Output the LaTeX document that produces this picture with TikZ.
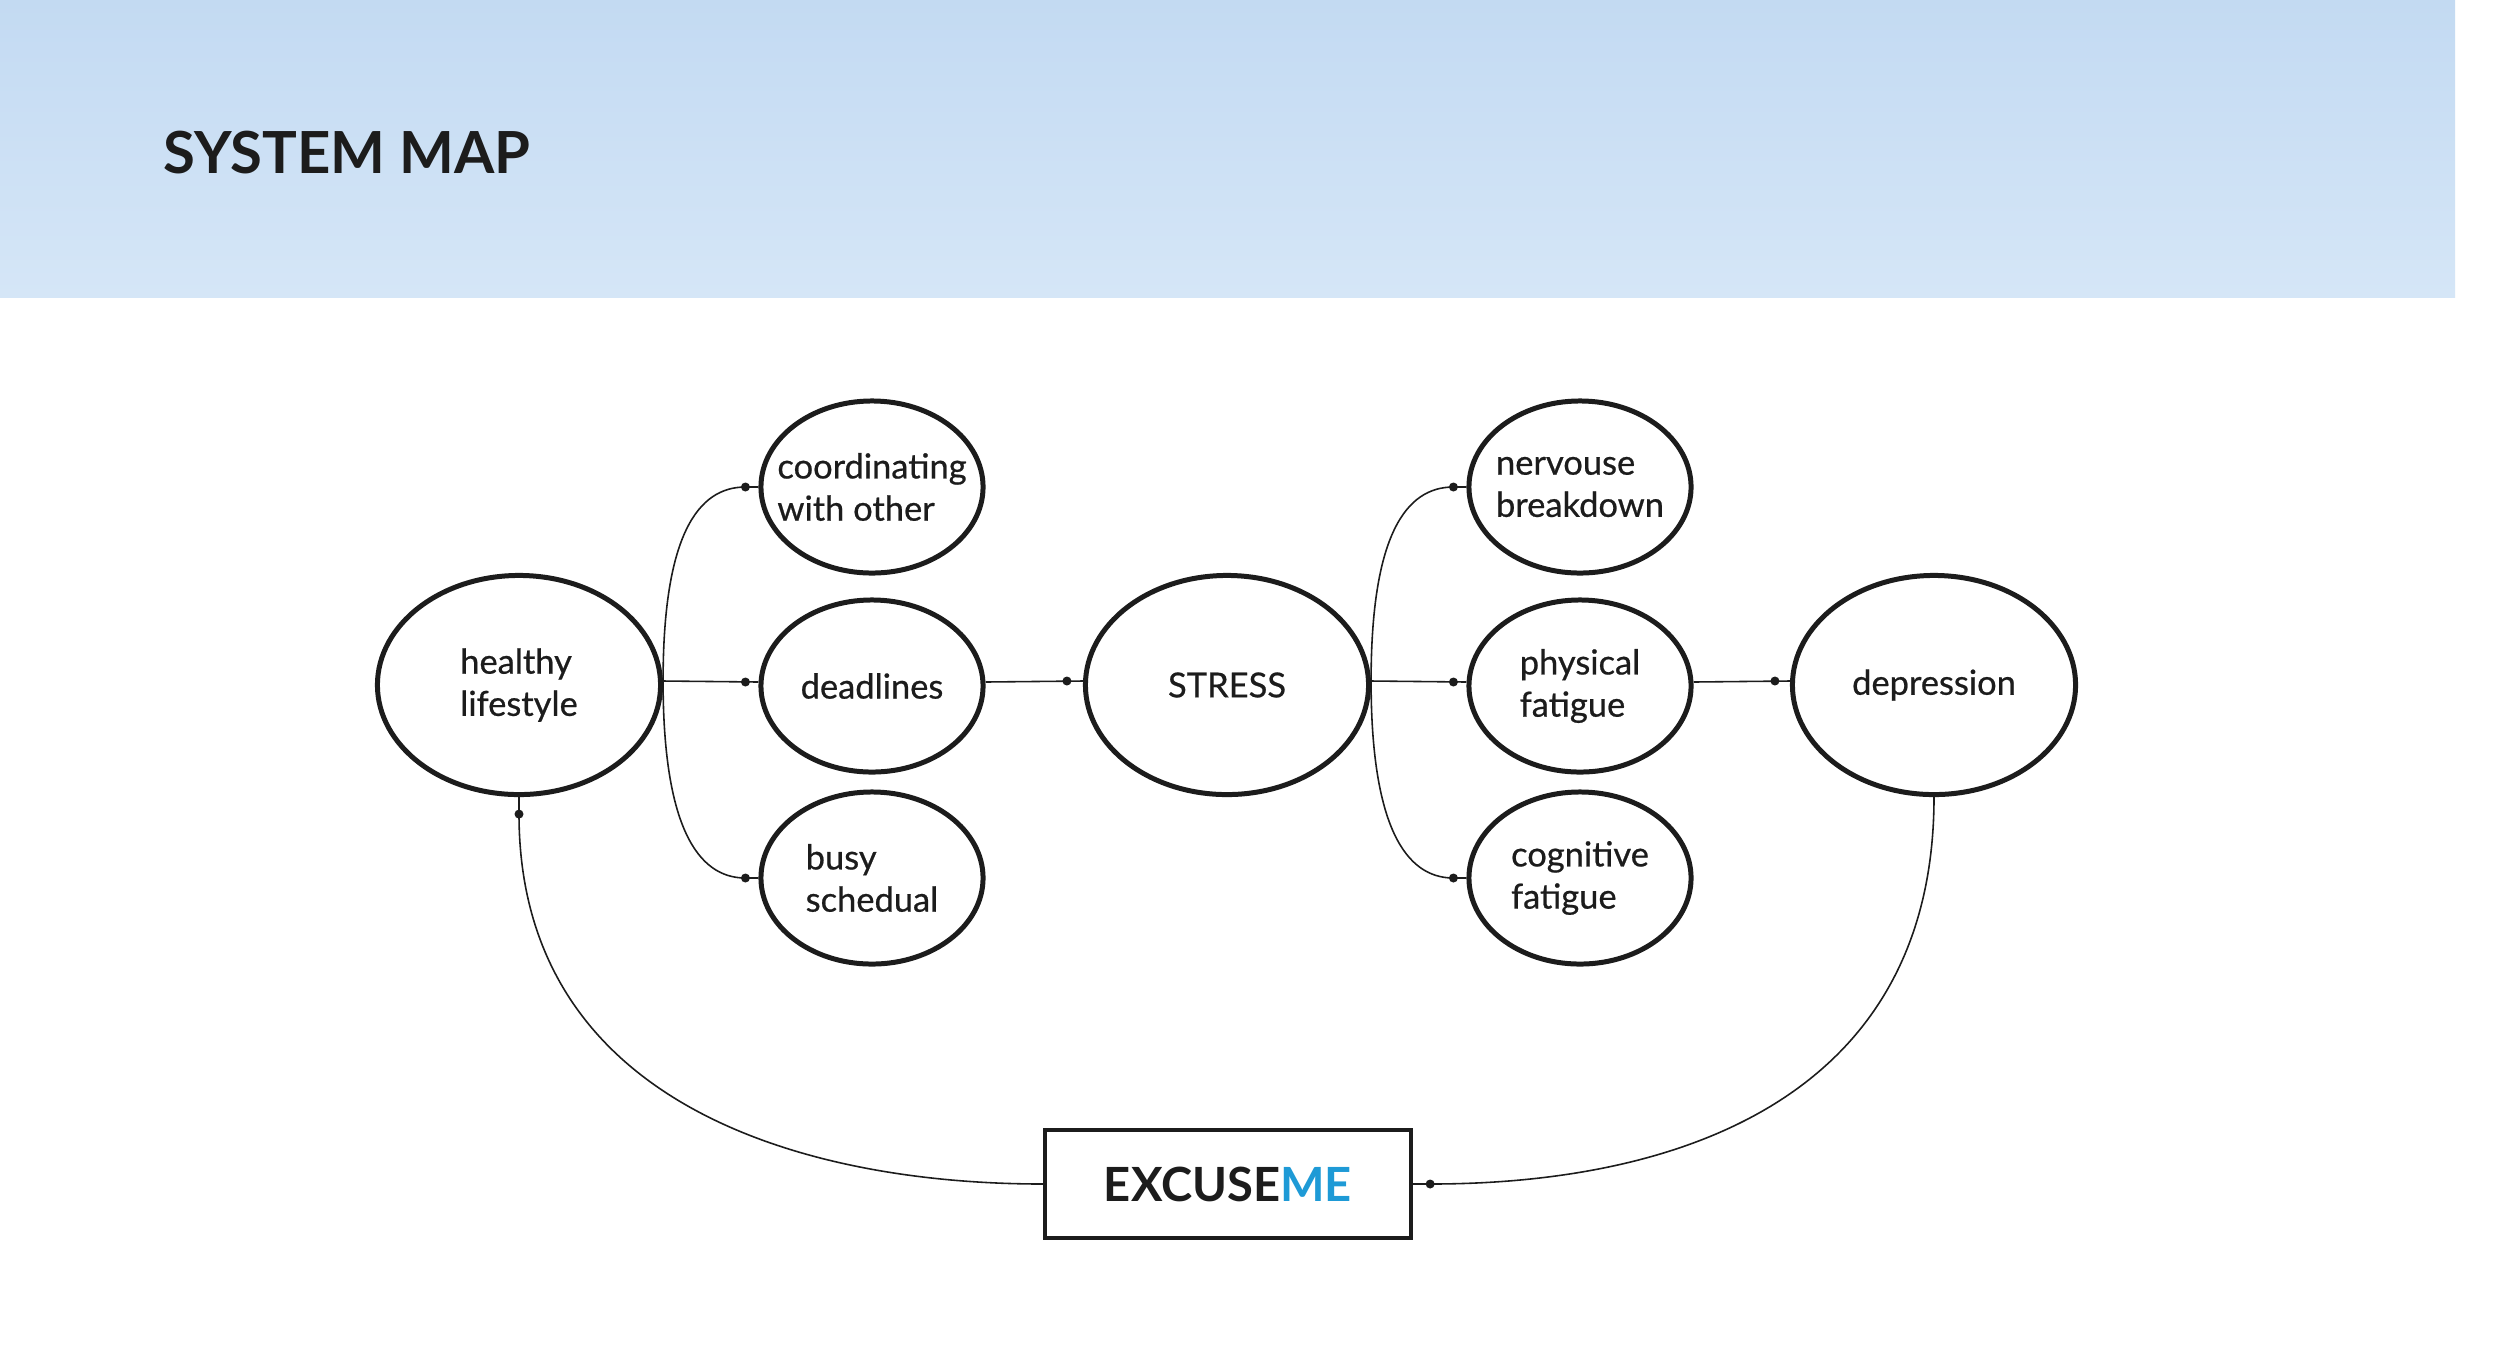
\documentclass[tikz,border=0pt]{standalone}
\usepackage{fontspec}
\setmainfont{Lato}
\newfontfamily\medium[FakeBold=0.6]{Lato}
\usetikzlibrary{shapes.geometric}
\definecolor{ink}{HTML}{1C1C1C}
\definecolor{bantop}{HTML}{C3DAF2}
\definecolor{banbot}{HTML}{D5E6F7}
\definecolor{meblue}{HTML}{1E9AD6}
\begin{document}
\begin{tikzpicture}[x=0.01cm,y=-0.01cm,
  bigell/.style={ellipse, draw=ink, line width=1.42pt, minimum width=2.83cm, minimum height=2.19cm, inner sep=0pt},
  smallell/.style={ellipse, draw=ink, line width=1.42pt, minimum width=2.22cm, minimum height=1.72cm, inner sep=0pt},
  lbl/.style={font=\medium\fontsize{9.8}{12}\selectfont, text=ink, align=left, inner sep=0pt},
  conn/.style={draw=ink, line width=0.45pt},
  dotc/.style={fill=ink},
]
\useasboundingbox (0,0) rectangle (2500,1369);
\fill[white] (0,0) rectangle (2500,1369);
\fill[top color=bantop, bottom color=banbot] (0,0) rectangle (2455,297);
\node[anchor=base west, font=\fontsize{16.5}{20}\selectfont\bfseries, text=ink, inner sep=0pt] (title) at (163,173) {SYSTEM MAP};

\node[bigell, label={[lbl]center:{healthy\\lifestyle}}] (healthy) at (519,685) {};
\node[smallell, label={[lbl]center:{coordinating\\with other}}] (coord) at (872,487) {};
\node[smallell, label={[lbl]center:{deadlines}}] (dead) at (872,686) {};
\node[smallell, label={[lbl]center:{busy\\schedual}}] (busy) at (872,878) {};
\node[bigell, label={[lbl]center:{STRESS}}] (stress) at (1227,685) {};
\node[smallell, label={[lbl]center:{nervouse\\breakdown}}] (nerv) at (1580,487) {};
\node[smallell, label={[lbl]center:{physical\\fatigue}}] (phys) at (1580,686) {};
\node[smallell, label={[lbl]center:{cognitive\\fatigue}}] (cogn) at (1580,878) {};
\node[bigell, label={[lbl]center:{depression}}] (depr) at (1934,685) {};
\node[draw=ink, line width=1.15pt, minimum width=3.66cm, minimum height=1.08cm, inner sep=0pt, font=\bfseries\fontsize{13.4}{16}\selectfont, text=ink] (excuse) at (1228,1184) {EXCUSE\textcolor{meblue}{ME}};

\coordinate (hE) at ([yshift=0.04cm]healthy.east);
\coordinate (sE) at ([yshift=0.04cm]stress.east);
\coordinate (dcoord) at ([xshift=-0.13cm]coord.west);
\coordinate (ddead) at ([xshift=-0.13cm,yshift=0.04cm]dead.west);
\coordinate (dbusy) at ([xshift=-0.13cm]busy.west);
\coordinate (dstress) at ([xshift=-0.16cm,yshift=0.04cm]stress.west);
\coordinate (dnerv) at ([xshift=-0.13cm]nerv.west);
\coordinate (dphys) at ([xshift=-0.13cm,yshift=0.04cm]phys.west);
\coordinate (dcogn) at ([xshift=-0.13cm]cogn.west);
\coordinate (ddepr) at ([xshift=-0.15cm,yshift=0.04cm]depr.west);
\coordinate (dhealthy) at ([yshift=-0.17cm]healthy.south);
\coordinate (dexcuse) at ([xshift=0.17cm]excuse.east);

% left fan
\draw[conn] (hE) -- ([yshift=0.04cm]dead.west);
\draw[conn] (hE) .. controls +(0,-145) and +(-48,0) .. (dcoord) -- (coord.west);
\draw[conn] (hE) .. controls +(0,145) and +(-48,0) .. (dbusy) -- (busy.west);
\draw[conn] ([yshift=0.04cm]dead.east) -- ([yshift=0.04cm]stress.west);
% right fan
\draw[conn] (sE) -- ([yshift=0.04cm]phys.west);
\draw[conn] (sE) .. controls +(0,-145) and +(-48,0) .. (dnerv) -- (nerv.west);
\draw[conn] (sE) .. controls +(0,145) and +(-48,0) .. (dcogn) -- (cogn.west);
\draw[conn] ([yshift=0.04cm]phys.east) -- ([yshift=0.04cm]depr.west);
% loop back
\draw[conn] (healthy.south) -- (dhealthy) .. controls +(0,290) and +(-240,0) .. (excuse.west);
\draw[conn] (depr.south) .. controls +(0,300) and +(250,0) .. (dexcuse) -- (excuse.east);

\foreach \p in {dcoord,ddead,dbusy,dstress,dnerv,dphys,dcogn,ddepr,dhealthy,dexcuse}
  \fill[dotc] (\p) circle[radius=0.045cm];
\end{tikzpicture}
\end{document}
